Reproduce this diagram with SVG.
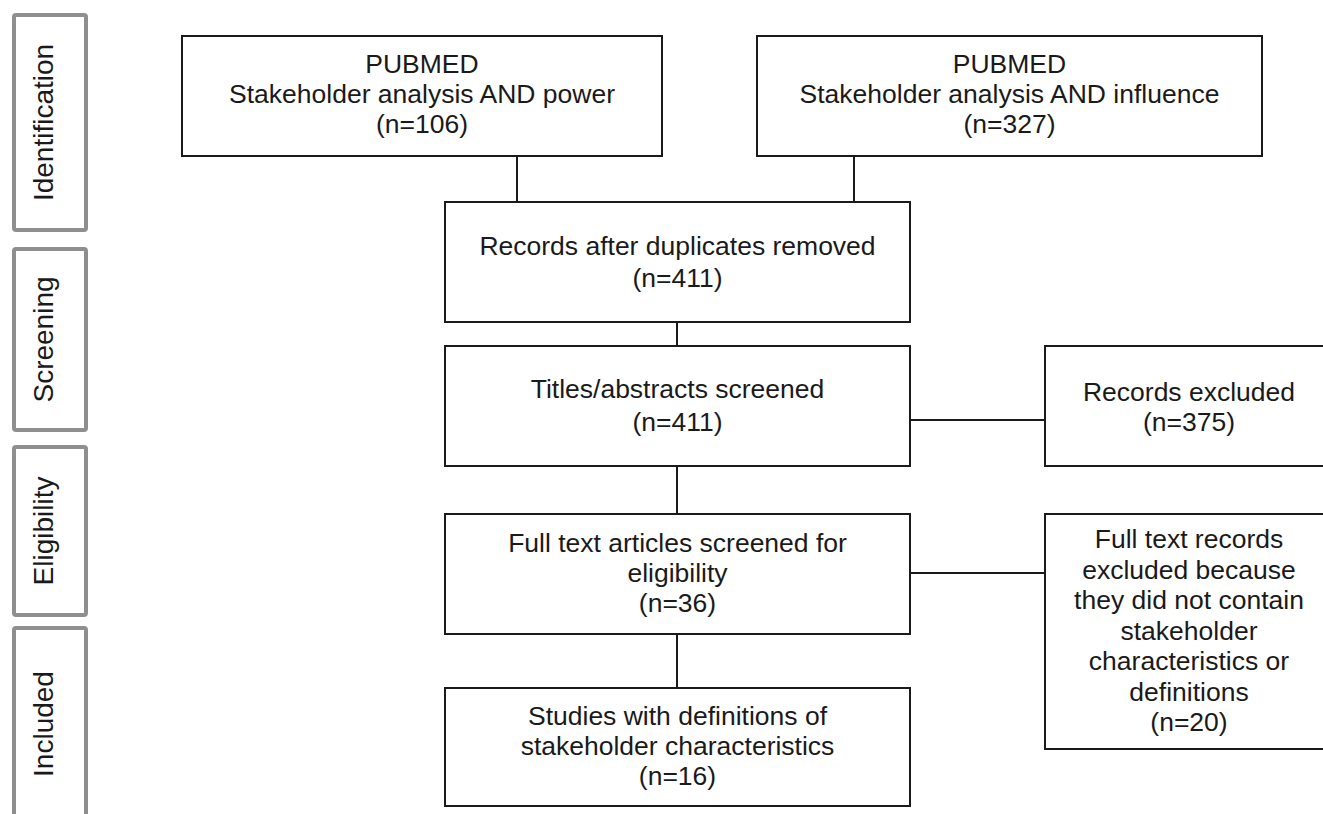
<svg xmlns="http://www.w3.org/2000/svg" width="1323" height="814" viewBox="0 0 1323 814">
<style>
.phase{fill:#fff;stroke:#8f8f8f;stroke-width:4}
.box{fill:#fff;stroke:#1a1a1a;stroke-width:2}
.t{font-family:"Liberation Sans",Arial,sans-serif;font-size:26.5px;fill:#1a1a1a;text-anchor:middle}
.pt{font-family:"Liberation Sans",Arial,sans-serif;font-size:28px;fill:#1a1a1a;text-anchor:middle}
.c{stroke:#1a1a1a;stroke-width:2;fill:none}
</style>
<rect width="1323" height="814" fill="#fff"/>
<g id="phase-identification">
<rect class="phase" x="14" y="15" width="72" height="215" rx="2"/>
<text class="pt" transform="translate(53,122.5) rotate(-90)">Identification</text>
</g>
<g id="phase-screening">
<rect class="phase" x="14" y="249" width="72" height="181" rx="2"/>
<text class="pt" transform="translate(53,339.5) rotate(-90)">Screening</text>
</g>
<g id="phase-eligibility">
<rect class="phase" x="14" y="447" width="72" height="168" rx="2"/>
<text class="pt" transform="translate(53,531) rotate(-90)">Eligibility</text>
</g>
<g id="phase-included">
<rect class="phase" x="14" y="628" width="72" height="200" rx="2"/>
<text class="pt" transform="translate(53,724) rotate(-90)">Included</text>
</g>
<g id="connectors">
<line class="c" x1="517" y1="156" x2="517" y2="202"/>
<line class="c" x1="854" y1="156" x2="854" y2="202"/>
<line class="c" x1="677" y1="322" x2="677" y2="346"/>
<line class="c" x1="677" y1="466" x2="677" y2="514"/>
<line class="c" x1="677" y1="634" x2="677" y2="688"/>
<line class="c" x1="910" y1="420" x2="1045" y2="420"/>
<line class="c" x1="910" y1="573" x2="1045" y2="573"/>
</g>
<g id="box-power">
<rect class="box" x="182" y="36" width="480" height="120"/>
<text class="t" x="422" y="73">PUBMED</text>
<text class="t" x="422" y="103">Stakeholder analysis AND power</text>
<text class="t" x="422" y="133">(n=106)</text>
</g>
<g id="box-influence">
<rect class="box" x="757" y="36" width="505" height="120"/>
<text class="t" x="1009.5" y="73">PUBMED</text>
<text class="t" x="1009.5" y="103">Stakeholder analysis AND influence</text>
<text class="t" x="1009.5" y="133">(n=327)</text>
</g>
<g id="box-duplicates">
<rect class="box" x="445" y="202" width="465" height="120"/>
<text class="t" x="677.5" y="255">Records after duplicates removed</text>
<text class="t" x="677.5" y="287">(n=411)</text>
</g>
<g id="box-titles">
<rect class="box" x="445" y="346" width="465" height="120"/>
<text class="t" x="677.5" y="398">Titles/abstracts screened</text>
<text class="t" x="677.5" y="431">(n=411)</text>
</g>
<g id="box-records-excluded">
<rect class="box" x="1045" y="346" width="290" height="120"/>
<text class="t" x="1189" y="401">Records excluded</text>
<text class="t" x="1189" y="431">(n=375)</text>
</g>
<g id="box-fulltext">
<rect class="box" x="445" y="514" width="465" height="120"/>
<text class="t" x="677.5" y="552">Full text articles screened for</text>
<text class="t" x="677.5" y="582">eligibility</text>
<text class="t" x="677.5" y="612">(n=36)</text>
</g>
<g id="box-fulltext-excluded">
<rect class="box" x="1045" y="514" width="290" height="235"/>
<text class="t" x="1189" y="548">Full text records</text>
<text class="t" x="1189" y="578.5">excluded because</text>
<text class="t" x="1189" y="609">they did not contain</text>
<text class="t" x="1189" y="639.5">stakeholder</text>
<text class="t" x="1189" y="670">characteristics or</text>
<text class="t" x="1189" y="700.5">definitions</text>
<text class="t" x="1189" y="731">(n=20)</text>
</g>
<g id="box-studies">
<rect class="box" x="445" y="688" width="465" height="118"/>
<text class="t" x="677.5" y="725">Studies with definitions of</text>
<text class="t" x="677.5" y="755">stakeholder characteristics</text>
<text class="t" x="677.5" y="785">(n=16)</text>
</g>
</svg>
